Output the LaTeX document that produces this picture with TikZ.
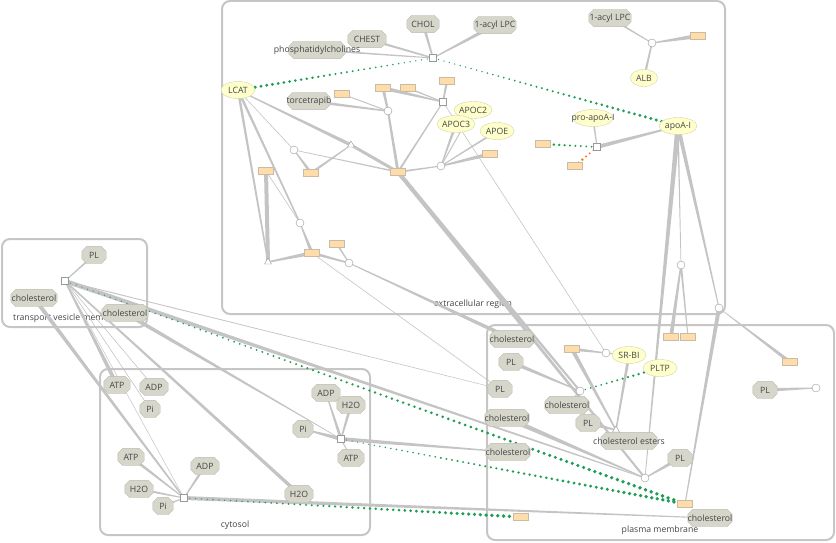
\documentclass[tikz,border=0pt]{standalone}
\usepackage{fontspec}
\setmainfont{Open Sans}
\usetikzlibrary{shapes.geometric,calc}

\definecolor{edgegray}{HTML}{C4C4C4}
\definecolor{compgray}{HTML}{C6C6C6}
\definecolor{chemfill}{HTML}{D6D6CB}
\definecolor{chemline}{HTML}{BCBCB2}
\definecolor{protfill}{HTML}{FFFFCC}
\definecolor{protline}{HTML}{D4D4A8}
\definecolor{boxfill}{HTML}{FFDDAA}
\definecolor{boxline}{HTML}{C8BCA6}
\definecolor{catgreen}{HTML}{1E9E55}
\definecolor{regorange}{HTML}{F07A10}
\definecolor{txt}{HTML}{454545}

\pgfdeclarelayer{back}
\pgfdeclarelayer{edges}
\pgfdeclarelayer{shapes}
\pgfsetlayers{back,edges,shapes,main}

% tapered connector: from, to, width at from, width at to
\newcommand\flow[4]{%
  \fill[edgegray] ($(#1)!#3*0.5pt!90:(#2)$) -- ($(#2)!#4*0.5pt!-90:(#1)$)
    -- ($(#2)!#4*0.5pt!90:(#1)$) -- ($(#1)!#3*0.5pt!-90:(#2)$) -- cycle;}
% dotted catalysis line: from, to, colour, radius at from, radius at to, dots
\newcommand\dotflow[6]{%
  \foreach \i in {0,...,#6}{%
    \pgfmathsetmacro\t{\i/#6}
    \fill[#3] ($(#1)!\t!(#2)$) circle ({(#4+(#5-#4)*\t)*1pt});}}

\begin{document}
\begin{tikzpicture}[
    x=1pt, y=-1pt,
    every node/.style={font=\fontsize{8.7}{10}\selectfont, text=txt, inner sep=0pt},
    comp/.style={draw=compgray, line width=2pt, rounded corners=8pt},
    overflow/.style={
      execute at begin node={\hbox to 0pt\bgroup\hss},
      execute at end node={\hss\egroup}
    },
    chem/.style={minimum width=#1, minimum height=17pt, overflow},
    octa/.style={fill=chemfill, draw=chemline},
    prot/.style={
      ellipse, draw=protline, fill=protfill, minimum width=#1, minimum height=17pt, overflow
    },
    gbox/.style={draw=boxline, fill=boxfill, minimum width=15pt, minimum height=7pt},
    rsq/.style={draw=black!40, fill=white, minimum size=7pt},
    rci/.style={circle, draw=black!40, fill=white, minimum size=8pt},
    rtr/.style={regular polygon, regular polygon sides=3, draw=black!40, fill=white, minimum size=8pt},
    lbl/.style={anchor=center}
  ]
  \useasboundingbox (0,0) rectangle (836,543);

  % compartments
  \begin{pgfonlayer}{back}
    \draw[comp] (222,1) rectangle (725,314);
    \draw[comp] (2,239) rectangle (147,327);
    \draw[comp] (100,369) rectangle (370,535);
    \draw[comp] (487,325) rectangle (834,540);
    \node[lbl] (ecrL) at (473,304) {extracellular region};
    \node[lbl, anchor=west] (tvmL) at (13,318) {transport vesicle membrane};
    \node[lbl] (cytL) at (235,525) {cytosol};
    \node[lbl] (pmL) at (660,530) {plasma membrane};
  \end{pgfonlayer}

  % extracellular region
  \node[chem=32] (chol) at (423,24) {CHOL};
  \node[chem=38] (chest) at (367,39) {CHEST};
  \node[chem=56] (pc) at (317,50) {phosphatidylcholines};
  \node[chem=42] (lpcA) at (495,25) {1-acyl LPC};
  \node[rsq] (rxA) at (433,58) {};
  \node[chem=42] (lpcB) at (610,18) {1-acyl LPC};
  \node[rci] (rxB) at (652,43) {};
  \node[gbox] (bxB) at (698,36) {};
  \node[prot=27] (alb) at (644,78) {ALB};
  \node[prot=34] (lcat) at (238,90) {LCAT};
  \node[chem=42] (torc) at (309,101) {torcetrapib};
  \node[gbox] (bx1) at (342,94) {};
  \node[gbox] (bx2) at (383,88) {};
  \node[gbox] (bx3) at (408,88) {};
  \node[gbox] (bx4) at (447,81) {};
  \node[rsq] (rxC) at (443,102) {};
  \node[rci] (rxD) at (388,111) {};
  \node[prot=38] (apoc2) at (473,110) {APOC2};
  \node[prot=38] (apoc3) at (456,124) {APOC3};
  \node[prot=34] (apoe) at (497,131) {APOE};
  \node[gbox] (bx5) at (490,154) {};
  \node[rci] (rxE) at (441,166) {};
  \node[gbox] (bx6) at (398,172) {};
  \node[rtr] (rxF) at (351,145) {};
  \node[rci] (rxG) at (294,150) {};
  \node[gbox] (bx7) at (311,173) {};
  \node[gbox] (bx8) at (266,171) {};
  \node[rci] (rxH) at (300,223) {};
  \node[rtr] (rxI) at (268,262) {};
  \node[gbox] (bx9) at (312,253) {};
  \node[gbox] (bx10) at (337,244) {};
  \node[rci] (rxJ) at (349,263) {};
  \node[prot=40] (proapo) at (593,118) {pro-apoA-I};
  \node[prot=38] (apoa1) at (678,126) {apoA-I};
  \node[rsq] (rxK) at (597,147) {};
  \node[gbox] (bx11) at (543,144) {};
  \node[gbox] (bx12) at (575,166) {};
  \node[rci] (rxL) at (681,265) {};
  \node[gbox] (bx13) at (671,337) {};
  \node[gbox] (bx14) at (688,337) {};
  \node[rci] (rxM) at (719,308) {};
  \node[gbox] (bx15) at (790,362) {};
  \node[chem=24] (plR) at (765,390) {PL};
  \node[rci] (rxN) at (816,388) {};

  % transport vesicle membrane
  \node[chem=24] (plV) at (94,255) {PL};
  \node[rsq] (rxV) at (65,281) {};
  \node[chem=46] (cholV1) at (34,298) {cholesterol};
  \node[chem=46] (cholV2) at (125,313) {cholesterol};

  % cytosol
  \node[chem=26] (atp1) at (117,385) {ATP};
  \node[chem=28] (adp1) at (154,387) {ADP};
  \node[chem=20] (pi1) at (150,409) {Pi};
  \node[chem=28] (adp2) at (326,393) {ADP};
  \node[chem=28] (h2o2) at (351,405) {H2O};
  \node[chem=20] (pi2) at (303,429) {Pi};
  \node[rsq] (rxP) at (341,439) {};
  \node[chem=26] (atp2) at (351,458) {ATP};
  \node[chem=26] (atp3) at (131,457) {ATP};
  \node[chem=28] (adp3) at (205,466) {ADP};
  \node[chem=28] (h2o3) at (139,489) {H2O};
  \node[chem=20] (pi3) at (163,506) {Pi};
  \node[rsq] (rxQ) at (184,498) {};
  \node[chem=28] (h2o4) at (299,494) {H2O};
  \node[gbox] (bx16) at (521,517) {};

  % plasma membrane
  \node[chem=44] (cholP1) at (512,339) {cholesterol};
  \node[gbox] (bx17) at (572,349) {};
  \node[rci] (rxR) at (606,353) {};
  \node[prot=34] (srbi) at (629,355) {SR-BI};
  \node[chem=24] (plP1) at (511,362) {PL};
  \node[prot=34] (pltp) at (660,368) {PLTP};
  \node[chem=24] (plP2) at (500,389) {PL};
  \node[rci] (rxS) at (580,391) {};
  \node[chem=44] (cholP2) at (567,405) {cholesterol};
  \node[chem=44] (cholP3) at (507,418) {cholesterol};
  \node[chem=24] (plP3) at (588,423) {PL};
  \node[rtr] (rxT) at (616,430) {};
  \node[chem=56] (ce) at (629,441) {cholesterol esters};
  \node[chem=44] (cholP4) at (508,452) {cholesterol};
  \node[chem=24] (plP4) at (680,458) {PL};
  \node[rci] (rxU) at (645,478) {};
  \node[gbox] (bx18) at (685,504) {};
  \node[chem=44] (cholP5) at (710,518) {cholesterol};

  % octagons behind the small molecule names
  \begin{pgfonlayer}{shapes}
    \foreach \n in {chol,chest,pc,lpcA,lpcB,torc,plR,plV,cholV1,cholV2,
        atp1,adp1,pi1,adp2,h2o2,pi2,atp2,atp3,adp3,h2o3,pi3,h2o4,
        cholP1,plP1,plP2,cholP2,cholP3,plP3,ce,cholP4,plP4,cholP5}
      \filldraw[octa] ($(\n.north west)+(5,0)$) -- ($(\n.north east)+(-5,0)$)
        -- ($(\n.north east)+(0,5)$) -- ($(\n.south east)+(0,-5)$)
        -- ($(\n.south east)+(-5,0)$) -- ($(\n.south west)+(5,0)$)
        -- ($(\n.south west)+(0,-5)$) -- ($(\n.north west)+(0,5)$) -- cycle;
  \end{pgfonlayer}

  \begin{pgfonlayer}{edges}
    % top reactions
    \flow{chest}{rxA}{2.5}{1.5}
    \flow{chol}{rxA}{3}{1.5}
    \flow{pc}{rxA}{2}{1}
    \flow{rxA}{lpcA}{1}{4}
    \flow{lpcB}{rxB}{2}{1}
    \flow{rxB}{bxB}{1}{4.5}
    \flow{alb}{rxB}{2.5}{1.5}
    % LCAT and lipoprotein reactions
    \flow{lcat}{rxF}{1}{3.5}
    \flow{rxF}{bx6}{3}{3}
    \flow{bx7}{rxF}{2.5}{1}
    \flow{lcat}{rxG}{0.6}{0.6}
    \flow{rxG}{bx7}{1}{3}
    \flow{rxG}{bx6}{0.6}{1.5}
    \flow{torc}{rxD}{3}{1.5}
    \flow{bx1}{rxD}{1}{1}
    \flow{bx2}{rxD}{3}{2}
    \flow{rxD}{bx6}{2}{3}
    \flow{bx2}{rxC}{4}{1}
    \flow{bx3}{rxC}{1.5}{1}
    \flow{bx4}{rxC}{2.5}{1.5}
    \flow{rxC}{bx6}{1}{2}
    \flow{apoc2}{rxE}{1}{1}
    \flow{apoc3}{rxE}{3}{1}
    \flow{apoe}{rxE}{2}{1}
    \flow{rxE}{bx5}{1.5}{4}
    \flow{rxE}{bx6}{1}{2}
    \flow{lcat}{rxI}{2.5}{1.5}
    \flow{lcat}{rxH}{2.5}{1.5}
    \flow{bx8}{rxI}{4}{4}
    \flow{bx8}{rxH}{0.6}{0.6}
    \flow{rxH}{bx9}{1}{3.5}
    \flow{rxI}{bx9}{1.5}{4}
    \flow{bx9}{rxJ}{3}{1.5}
    \flow{bx10}{rxJ}{2}{1}
    \flow{rxJ}{cholP1}{1}{4}
    \flow{bx9}{plP2}{0.6}{0.6}
    \flow{bx6}{rxS}{4}{2}
    \flow{bx6}{rxU}{4}{2}
    \flow{rxC}{rxR}{0.6}{0.6}
    % apoA-I
    \flow{proapo}{rxK}{2}{1}
    \flow{rxK}{apoa1}{4}{1.5}
    \flow{apoa1}{rxL}{1.5}{0.7}
    \flow{rxL}{bx13}{1.5}{4}
    \flow{rxL}{bx14}{2}{1}
    \flow{apoa1}{rxM}{4}{1}
    \flow{rxM}{bx18}{4}{1}
    \flow{rxM}{bx15}{0.5}{3.5}
    \flow{apoa1}{rxU}{5}{0.7}
    \flow{plR}{rxN}{4}{1}
    % plasma membrane
    \flow{bx17}{rxR}{3.5}{1}
    \flow{rxR}{srbi}{1}{1}
    \flow{bx17}{rxT}{4}{1.5}
    \flow{srbi}{rxT}{3}{1.5}
    \flow{plP3}{rxT}{4}{1.5}
    \flow{rxT}{ce}{1.5}{1.5}
    \flow{plP1}{rxS}{4}{1}
    \flow{rxS}{cholP2}{1}{1}
    \flow{plP4}{rxU}{4}{1}
    \flow{cholP3}{rxU}{5}{1}
    % vesicle and cytosol
    \flow{plV}{rxV}{2}{1}
    \flow{rxV}{plP2}{1}{0.5}
    \flow{rxV}{rxU}{4.5}{1}
    \flow{rxV}{atp1}{1.5}{4}
    \flow{rxV}{adp1}{0.6}{0.6}
    \flow{rxV}{pi1}{0.6}{0.6}
    \flow{rxV}{h2o4}{1.5}{3.5}
    \flow{rxV}{rxQ}{0.5}{0.5}
    \flow{cholV1}{rxQ}{4}{1.5}
    \flow{cholV2}{rxP}{4}{0.5}
    \flow{atp3}{rxQ}{3}{1}
    \flow{adp3}{rxQ}{3}{1}
    \flow{h2o3}{rxQ}{2.5}{1}
    \flow{pi3}{rxQ}{2}{1}
    \flow{rxQ}{cholP5}{4}{1}
    \flow{adp2}{rxP}{1}{3}
    \flow{h2o2}{rxP}{3}{1.5}
    \flow{pi2}{rxP}{1}{4}
    \flow{rxP}{atp2}{1}{1}
    \flow{rxP}{cholP4}{4}{1}
    % catalysis and regulation
    \dotflow{lcat}{rxA}{catgreen}{1.8}{0.6}{34}
    \dotflow{rxA}{apoa1}{catgreen}{0.6}{1.8}{45}
    \dotflow{bx11}{rxK}{catgreen}{1.5}{0.9}{10}
    \dotflow{rxK}{bx12}{regorange}{0.8}{1.6}{6}
    \dotflow{pltp}{rxS}{catgreen}{1.5}{0.8}{15}
    \dotflow{rxV}{bx18}{catgreen}{0.6}{2}{110}
    \dotflow{rxP}{bx18}{catgreen}{0.6}{2}{62}
    \dotflow{rxQ}{bx16}{catgreen}{0.6}{2}{58}
  \end{pgfonlayer}
\end{tikzpicture}
\end{document}
